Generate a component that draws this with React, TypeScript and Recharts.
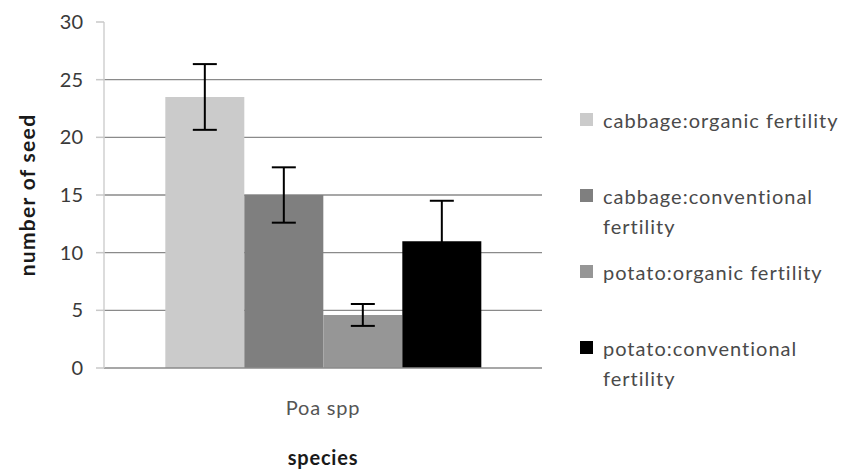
import {
  BarChart,
  Bar,
  XAxis,
  YAxis,
  CartesianGrid,
  ErrorBar,
  Label,
} from "recharts";

// Datos
const categories = ["Poa spp"];
const seriesNames = [
  "cabbage:organic fertility",
  "cabbage:conventional fertility",
  "potato:organic fertility",
  "potato:conventional fertility",
];
const means = [23.5, 15.0, 4.6, 11.0];
const errors = [2.85, 2.4, 0.95, 3.5];
const yTicks = [0, 5, 10, 15, 20, 25, 30];
const gridValues = [5, 10, 15, 20, 25];

const COLORS = ["#cbcbcb", "#7f7f7f", "#969696", "#000000"];
const FONT = "Lato, 'Open Sans', sans-serif";

const data = categories.map((name) => {
  const row: Record<string, string | number> = { name };
  seriesNames.forEach((_, i) => {
    row[`s${i}`] = means[i];
    row[`e${i}`] = errors[i];
  });
  return row;
});

function YTitle(props: any) {
  const { viewBox } = props;
  const x = viewBox.x + 26;
  const y = viewBox.y + viewBox.height / 2;
  return (
    <text
      x={x}
      y={y}
      transform={`rotate(-90, ${x}, ${y})`}
      textAnchor="middle"
      dominantBaseline="central"
      fontFamily={FONT}
      fontWeight="bold"
      fontSize={21}
      letterSpacing={1.3}
      fill="#1a1a1a"
    >
      number of seed
    </text>
  );
}

export default function App() {
  return (
    <div
      style={{
        position: "absolute",
        left: 0,
        top: 0,
        width: 851,
        height: 469,
        background: "#fff",
        fontFamily: FONT,
      }}
    >
      <BarChart
        width={851}
        height={469}
        data={data}
        margin={{ top: 22, right: 309, bottom: 0, left: 0 }}
        barCategoryGap="14%"
        barGap={0}
      >
        <CartesianGrid
          vertical={false}
          horizontalValues={gridValues}
          stroke="#8a8a8a"
          strokeWidth={1.3}
        />
        <XAxis
          dataKey="name"
          height={101}
          axisLine={{ stroke: "#8a8a8a", strokeWidth: 1.5 }}
          tickLine={false}
          tickSize={0}
          tickMargin={33}
          tick={{
            fill: "#555",
            fontSize: 20,
            fontFamily: FONT,
            letterSpacing: 0.8,
          }}
        >
          <Label
            value="species"
            position="insideBottom"
            offset={4}
            style={{
              fontFamily: FONT,
              fontWeight: "bold",
              fontSize: 20,
              letterSpacing: 0.8,
              fill: "#1a1a1a",
            }}
          />
        </XAxis>
        <YAxis
          width={104}
          domain={[0, 30]}
          ticks={yTicks}
          interval={0}
          axisLine={{ stroke: "#d0d0d0", strokeWidth: 1.5 }}
          tickLine={{ stroke: "#c8c8c8", strokeWidth: 1.5 }}
          tickSize={8}
          tickMargin={13}
          tick={{ fill: "#3a3a3a", fontSize: 20, fontFamily: FONT }}
          label={<YTitle />}
        />
        {seriesNames.map((name, i) => (
          <Bar
            key={name}
            dataKey={`s${i}`}
            name={name}
            fill={COLORS[i]}
            isAnimationActive={false}
          >
            <ErrorBar
              dataKey={`e${i}`}
              width={12}
              stroke="#000"
              strokeWidth={2}
              direction="y"
            />
          </Bar>
        ))}
      </BarChart>

      {/* leyenda */}
      <div
        style={{
          position: "absolute",
          left: 580,
          top: 105,
          width: 268,
          color: "#4a4a4a",
          fontSize: 20,
          letterSpacing: 1,
          lineHeight: "30px",
        }}
      >
        {seriesNames.map((name, i) => (
          <div
            key={name}
            style={{ display: "flex", alignItems: "flex-start", height: 76 }}
          >
            <span
              style={{
                width: 13,
                height: 13,
                background: COLORS[i],
                marginTop: 8,
                marginRight: 10,
                flexShrink: 0,
              }}
            />
            <span style={{ width: 245 }}>{name}</span>
          </div>
        ))}
      </div>
    </div>
  );
}
